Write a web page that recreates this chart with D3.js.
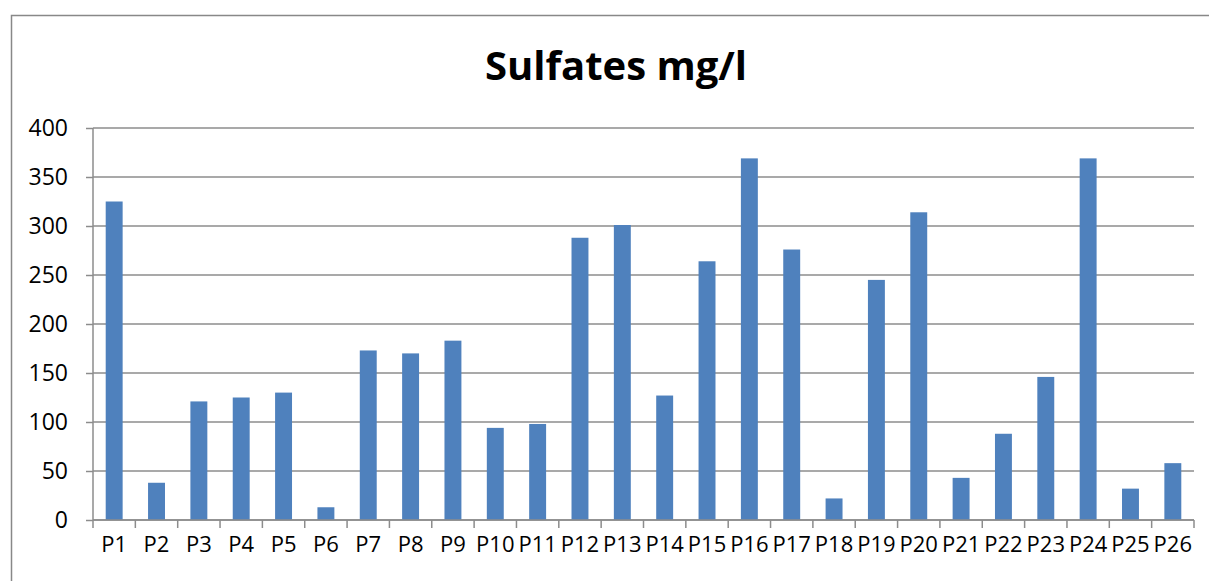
<!DOCTYPE html>
<html>
<head>
<meta charset="utf-8">
<script src="https://cdn.jsdelivr.net/npm/d3@7"></script>
<style>
  html, body { margin: 0; padding: 0; background: #fff; }
  svg { display: block; }
  .tick text { font-family: "Open Sans", sans-serif; fill: #000; }
</style>
</head>
<body>
<svg id="chart"></svg>
<script>
const categories = ["P1","P2","P3","P4","P5","P6","P7","P8","P9","P10","P11","P12","P13",
                    "P14","P15","P16","P17","P18","P19","P20","P21","P22","P23","P24","P25","P26"];
const sulfates = [325, 38, 121, 125, 130, 13, 173, 170, 183, 94, 98, 288, 301,
                  127, 264, 369, 276, 22, 245, 314, 43, 88, 146, 369, 32, 58];
const yTicks = [0, 50, 100, 150, 200, 250, 300, 350, 400];

const W = 1209, H = 581;
const plot = { left: 93, right: 1194, top: 128, bottom: 520 };

const svg = d3.select("#chart").attr("width", W).attr("height", H);

// chart frame
svg.append("rect")
    .attr("x", 11.5).attr("y", 15.5)
    .attr("width", W + 20).attr("height", H + 20)
    .attr("fill", "none").attr("stroke", "#888").attr("stroke-width", 1.5);

svg.append("text")
    .attr("x", 616).attr("y", 80)
    .attr("text-anchor", "middle")
    .attr("font-family", "Open Sans, sans-serif")
    .attr("font-weight", "bold")
    .attr("font-size", 40)
    .text("Sulfates mg/l");

const x = d3.scaleBand().domain(categories).range([plot.left, plot.right]).paddingInner(0.6).paddingOuter(0.3);
const y = d3.scaleLinear().domain([0, 400]).range([plot.bottom, plot.top]);

// gridlines
svg.append("g")
    .selectAll("line")
    .data(yTicks)
    .enter().append("line")
        .attr("x1", plot.left).attr("x2", plot.right)
        .attr("y1", d => y(d)).attr("y2", d => y(d))
        .attr("stroke", "#8c8c8c").attr("stroke-width", 1.5);

// bars
svg.append("g")
    .selectAll("rect")
    .data(sulfates)
    .enter().append("rect")
        .attr("x", (d, i) => x(categories[i]))
        .attr("width", x.bandwidth())
        .attr("y", d => y(d))
        .attr("height", d => y(0) - y(d))
        .attr("fill", "#4f81bd");

// y axis
const yAxis = svg.append("g")
    .attr("transform", `translate(${plot.left},0)`)
    .call(d3.axisLeft(y).tickValues(yTicks).tickSize(7).tickPadding(18));
yAxis.selectAll("line, path").attr("stroke", "#8c8c8c").attr("stroke-width", 1.5);
yAxis.select(".domain").attr("d", `M0,${plot.top}V${plot.bottom}`);
yAxis.selectAll("text").attr("font-size", 23);

// x axis with category boundary ticks
const xAxis = svg.append("g")
    .attr("transform", `translate(0,${plot.bottom})`)
    .call(d3.axisBottom(x).tickSize(0).tickPadding(16));
xAxis.select(".domain").attr("d", `M${plot.left},0H${plot.right}`)
    .attr("stroke", "#8c8c8c").attr("stroke-width", 1.5);
xAxis.selectAll("text").attr("font-size", 22).attr("dy", "0.71em");

const step = (plot.right - plot.left) / categories.length;
xAxis.append("g")
    .selectAll("line")
    .data(d3.range(categories.length + 1))
    .enter().append("line")
        .attr("x1", d => plot.left + d * step).attr("x2", d => plot.left + d * step)
        .attr("y1", 0).attr("y2", 8)
        .attr("stroke", "#8c8c8c").attr("stroke-width", 1.5);
</script>
</body>
</html>
